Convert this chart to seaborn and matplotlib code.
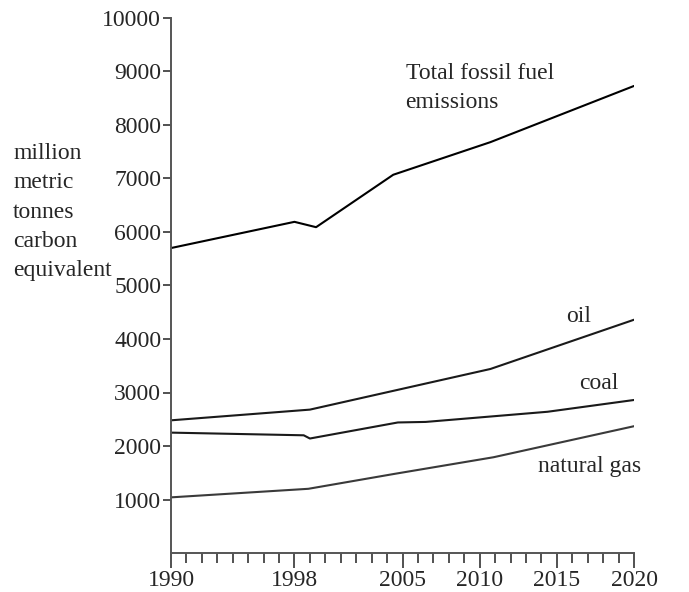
import pandas as pd
import seaborn as sns
import matplotlib.pyplot as plt

# Data
total_years = [1990, 1998, 1999.4, 2004.4, 2010.7, 2020]
total_vals = [5700, 6190, 6090, 7070, 7680, 8730]

oil_years = [1990, 1999, 2010.7, 2020]
oil_vals = [2480, 2680, 3440, 4360]

coal_years = [1990, 1998.6, 1999, 2004.7, 2006.5, 2014.4, 2020]
coal_vals = [2250, 2200, 2140, 2440, 2450, 2640, 2860]

gas_years = [1990, 1998.9, 2004.5, 2010.9, 2020]
gas_vals = [1040, 1200, 1480, 1790, 2370]

major_ticks = [1990, 1998, 2005, 2010, 2015, 2020]
y_ticks = list(range(1000, 10001, 1000))

sns.set_style("ticks")
plt.rcParams['font.family'] = ['Liberation Serif', 'DejaVu Serif']
FS = 17

series = [
    (total_years, total_vals, '#000000'),
    (oil_years, oil_vals, '#1a1a1a'),
    (coal_years, coal_vals, '#1a1a1a'),
    (gas_years, gas_vals, '#3a3a3a'),
]

fig = plt.figure(figsize=(6.89, 5.92), dpi=100)
ax = fig.add_axes([171 / 689, 1 - 553 / 592, (634 - 171) / 689, (553 - 18) / 592])

for yrs, vals, col in series:
    sns.lineplot(x=yrs, y=vals, ax=ax, color=col, linewidth=1.5)

ax.set_xlim(1990, 2020)
ax.set_ylim(0, 10000)
sns.despine(ax=ax)
for s in ['left', 'bottom']:
    ax.spines[s].set_color('#555555')
    ax.spines[s].set_linewidth(1.4)

ax.set_yticks(y_ticks)
ax.set_yticklabels([str(v) for v in y_ticks], fontsize=FS)
ax.tick_params(axis='y', length=6, width=1.2, color='#333333', pad=1)

ax.set_xticks(major_ticks)
ax.set_xticklabels([str(v) for v in major_ticks], fontsize=FS)
ax.set_xticks(range(1990, 2021), minor=True)
ax.tick_params(axis='x', which='major', length=11, width=1.2, color='#333333', pad=1)
ax.tick_params(axis='x', which='minor', length=7, width=1.2, color='#333333')

# Series labels
ax.text(2005.2, 8690, "Total fossil fuel\nemissions", fontsize=FS, ha='left', va='center', linespacing=1.5)
ax.text(2016.4, 4420, "oil", fontsize=FS, ha='center', va='center')
ax.text(2017.7, 3160, "coal", fontsize=FS, ha='center', va='center')
ax.text(2017.1, 1620, "natural gas", fontsize=FS, ha='center', va='center')

fig.text(13 / 689, 1 - 212 / 592, "million\nmetric\ntonnes\ncarbon\nequivalent",
         fontsize=FS, ha='left', va='center', linespacing=1.52)

fig.savefig("out.png", dpi=100)
